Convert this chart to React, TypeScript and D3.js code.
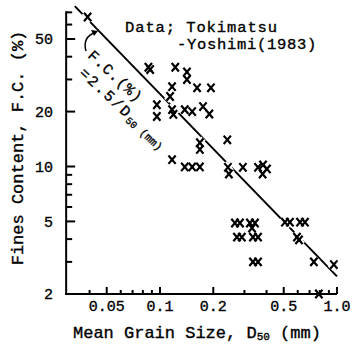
import { useRef, useEffect } from "react";
import * as d3 from "d3";

// Tokimatsu & Yoshimi (1983): mean grain size vs fines content
const grainSize = [
  0.039, 0.086, 0.088, 0.122, 0.142, 0.142, 0.162, 0.194, 0.117, 0.114,
  0.096, 0.096, 0.117, 0.119, 0.138, 0.152, 0.175, 0.19, 0.168, 0.168,
  0.24, 0.117, 0.138, 0.152, 0.168, 0.242, 0.245, 0.294, 0.358, 0.382,
  0.402, 0.38, 0.265, 0.283, 0.322, 0.344, 0.331, 0.272, 0.29, 0.335,
  0.358, 0.335, 0.358, 0.508, 0.542, 0.618, 0.659, 0.594, 0.61, 0.74,
  0.96, 0.79,
];
const finesContent = [
  66, 35, 34, 35, 33, 30, 27, 27, 27.4, 24.2,
  21.8, 18.8, 20.5, 19.3, 20.5, 20, 21.3, 19.4, 13.5, 12.4,
  14, 10.9, 9.95, 9.95, 9.95, 9.9, 9.1, 9.9, 9.9, 10.2,
  9.7, 9.1, 4.9, 4.9, 4.9, 4.9, 4.6, 4.1, 4.1, 4.1,
  4.1, 3.0, 3.0, 4.95, 4.95, 4.95, 4.95, 4.1, 3.96, 3.0,
  2.9, 2.0,
];

const xMajor = [0.05, 0.1, 0.2, 0.5, 1.0];
const xMajorLabels = ["0.05", "0.1", "0.2", "0.5", "1.0"];
const xMinor = [0.04, 0.06, 0.07, 0.08, 0.09, 0.3, 0.4, 0.6, 0.7, 0.8, 0.9];
const yMajor = [2, 5, 10, 20, 50];
const yMajorLabels = ["2", "5", "10", "20", "50"];
const yMinor = [3, 4, 6, 7, 8, 9, 30, 40, 60, 70];

// F.C.(%) = 2.5 / D50 (mm), drawn between these grain sizes
const fitRange = [0.033, 1.0];
const fitCoef = 2.5;

const W = 353;
const H = 346;
const MONO = "'Liberation Mono', 'DejaVu Sans Mono', monospace";

const crossPath = (cx: number, cy: number, w = 3.6, h = 4.2) =>
  `M${cx - w},${cy - h}L${cx + w},${cy + h}M${cx + w},${cy - h}L${cx - w},${cy + h}`;

const App = () => {
  const svgRef = useRef<SVGSVGElement | null>(null);

  useEffect(() => {
    if (!svgRef.current) return;
    const svg = d3.select(svgRef.current);
    svg.selectAll("*").remove();

    const x = d3.scaleLog().domain([0.1, 1]).range([160, 337]);
    const y = d3.scaleLog().domain([2, 50]).range([294, 39]);
    const x0 = x(0.0295);
    const yTop = y(70);

    const pts = grainSize.map((d, i) => [d, finesContent[i]] as [number, number]);

    // fitted line
    const fit = fitRange.map((d) => [d, fitCoef / d] as [number, number]);
    svg.append("path")
      .attr("d", d3.line().x((d) => x(d[0])).y((d) => y(d[1]))(fit) || "")
      .attr("fill", "none")
      .attr("stroke", "#000")
      .attr("stroke-width", 2);

    // white halos so the line breaks at the marks
    svg.append("g")
      .selectAll("path")
      .data(pts)
      .enter()
      .append("path")
      .attr("d", (d) => crossPath(x(d[0]), y(d[1])))
      .attr("stroke", "#fff")
      .attr("stroke-width", 6);

    // axes
    const axis = svg.append("g").attr("stroke", "#000").attr("stroke-width", 2);
    axis.append("line").attr("x1", x0).attr("x2", x0).attr("y1", yTop - 1).attr("y2", y(2) + 1);
    axis.append("line").attr("x1", x0 - 1).attr("x2", x(1)).attr("y1", y(2)).attr("y2", y(2));

    axis.selectAll(".ymaj").data(yMajor.filter((v) => v !== 2)).enter().append("line")
      .attr("x1", x0).attr("x2", x0 + 9).attr("y1", (d) => y(d)).attr("y2", (d) => y(d));
    axis.selectAll(".ymin").data(yMinor).enter().append("line")
      .attr("x1", x0).attr("x2", x0 + 6).attr("y1", (d) => y(d)).attr("y2", (d) => y(d));
    axis.selectAll(".xmaj").data(xMajor).enter().append("line")
      .attr("x1", (d) => x(d)).attr("x2", (d) => x(d)).attr("y1", y(2)).attr("y2", y(2) - 7);
    axis.selectAll(".xmin").data(xMinor).enter().append("line")
      .attr("x1", (d) => x(d)).attr("x2", (d) => x(d)).attr("y1", y(2)).attr("y2", y(2) - 4);

    const txt = svg.append("g")
      .attr("font-family", MONO)
      .attr("fill", "#000")
      .attr("stroke", "#000")
      .attr("stroke-width", 0.35);

    // tick labels
    txt.append("g").selectAll("text").data(yMajor).enter().append("text")
      .attr("x", 53).attr("y", (d) => y(d)).attr("dy", "0.35em")
      .attr("text-anchor", "end").attr("font-size", 15)
      .text((_, i) => yMajorLabels[i]);
    txt.append("g").selectAll("text").data(xMajor).enter().append("text")
      .attr("x", (d) => x(d)).attr("y", 311)
      .attr("text-anchor", "middle").attr("font-size", 15)
      .text((_, i) => xMajorLabels[i]);

    // marks
    svg.append("g")
      .selectAll("path")
      .data(pts)
      .enter()
      .append("path")
      .attr("d", (d) => crossPath(x(d[0]), y(d[1])))
      .attr("stroke", "#000")
      .attr("stroke-width", 2.2);

    // axis titles
    txt.append("text")
      .attr("transform", "translate(23,148) rotate(-90)")
      .attr("text-anchor", "middle").attr("font-size", 17)
      .text("Fines Content, F.C. (%)");

    const xt = txt.append("text")
      .attr("x", 73).attr("y", 338)
      .attr("font-size", 17);
    xt.append("tspan").text("Mean Grain Size, D");
    xt.append("tspan").attr("font-size", 11).attr("dy", 2).text("50");
    xt.append("tspan").attr("dy", -2).text(" (mm)");

    // source note
    txt.append("text").attr("x", 125).attr("y", 31.5)
      .attr("font-size", 15.5).attr("letter-spacing", 0.9).text("Data; Tokimatsu");
    txt.append("text").attr("x", 177).attr("y", 49)
      .attr("font-size", 15.5).attr("letter-spacing", 0.7).text("-Yoshimi(1983)");

    // equation label along the line
    const eq = txt.append("g").attr("transform", "translate(87,56.4) rotate(43)");
    eq.append("text").attr("font-size", 15).attr("letter-spacing", 0.8).text("F.C.(%)");
    const eq2 = eq.append("text").attr("x", 5.8).attr("y", 18.6).attr("font-size", 15);
    eq2.append("tspan").attr("letter-spacing", 2).text("=2.5/D");
    eq2.append("tspan").attr("font-size", 10).attr("dy", 3).text("50");
    eq2.append("tspan").attr("font-size", 11).attr("dy", -1).text(" (mm)");

    // little curved arrow pointing to the line
    svg.append("path")
      .attr("d", "M86,51 Q82,37 96,32")
      .attr("fill", "none").attr("stroke", "#000").attr("stroke-width", 1.5);
    svg.append("path")
      .attr("d", "M98,31 L91,30 L94,36 Z")
      .attr("fill", "#000");
  }, []);

  return (
    <svg
      ref={svgRef}
      width={W}
      height={H}
      viewBox={`0 0 ${W} ${H}`}
      style={{ position: "absolute", left: 0, top: 0, background: "#fff" }}
    ></svg>
  );
};

export default App;
